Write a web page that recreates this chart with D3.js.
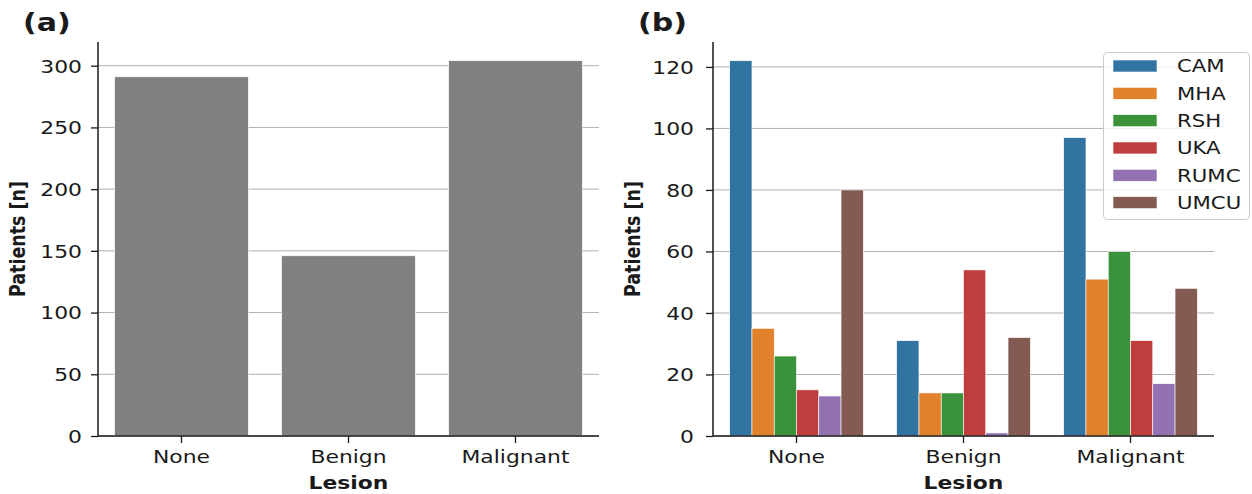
<!DOCTYPE html>
<html>
<head>
<meta charset="utf-8">
<script src="https://cdn.jsdelivr.net/npm/d3@7"></script>
<style>
  html, body { margin: 0; padding: 0; background: #fff; }
  svg { display: block; font-family: "DejaVu Sans", sans-serif; }
</style>
</head>
<body>
<svg id="chart" width="1252" height="494"></svg>
<script>
// ---- data ----
const categories = ["None", "Benign", "Malignant"];
const totals = [291, 146, 304];
const sites = ["CAM", "MHA", "RSH", "UKA", "RUMC", "UMCU"];
const siteColors = ["#3274a1", "#e1812c", "#3a923a", "#c03d3e", "#9372b2", "#845b53"];
const valuesCAM  = [122, 31, 97];
const valuesMHA  = [35, 14, 51];
const valuesRSH  = [26, 14, 60];
const valuesUKA  = [15, 54, 31];
const valuesRUMC = [13, 1, 17];
const valuesUMCU = [80, 32, 48];
const ticksA = [0, 50, 100, 150, 200, 250, 300];
const ticksB = [0, 20, 40, 60, 80, 100, 120];

const seriesValues = [valuesCAM, valuesMHA, valuesRSH, valuesUKA, valuesRUMC, valuesUMCU];

// ---- layout ----
const SX = 1.25;          // horizontal text stretch of the reference
const FS = 17.5;          // base font size
const ink = "#1a1a1a";
const svg = d3.select("#chart");
const yTop = 42, yBot = 436;

function styleAxis(g) {
  g.selectAll("path.domain").attr("stroke", ink).attr("stroke-width", 1.5);
  g.selectAll(".tick line").attr("stroke", ink).attr("stroke-width", 1.3);
  g.selectAll(".tick text").attr("fill", ink).style("font-size", FS + "px")
    .style("font-family", "'DejaVu Sans', sans-serif");
}

function stretchedText(parent, x, y, txt, opts) {
  const t = parent.append("text")
    .attr("transform", `translate(${x},${y}) ${opts.rotate ? "rotate(-90)" : ""} scale(${opts.rotate ? 1 : SX},${opts.rotate ? SX : 1})`)
    .attr("text-anchor", opts.anchor || "middle")
    .attr("fill", ink)
    .style("font-size", (opts.size || FS) + "px")
    .style("font-weight", opts.bold ? "bold" : "normal")
    .text(txt);
  return t;
}

function drawPanel(opts) {
  const x = d3.scaleBand().domain(categories).range([opts.x0, opts.x1])
    .paddingInner(0.2).paddingOuter(0.1);
  const y = d3.scaleLinear().domain([0, opts.ymax]).range([yBot, yTop]);
  const g = svg.append("g");

  // grid
  g.append("g").selectAll("line").data(opts.ticks).join("line")
    .attr("x1", opts.x0).attr("x2", opts.x1)
    .attr("y1", d => y(d)).attr("y2", d => y(d))
    .attr("stroke", "#b0b0b0").attr("stroke-width", 1);

  opts.drawBars(g, x, y);

  // axes
  const ya = g.append("g").attr("transform", `translate(${opts.x0},0)`)
    .call(d3.axisLeft(y).tickValues(opts.ticks).tickSizeOuter(0).tickSize(7));
  styleAxis(ya);
  ya.selectAll(".tick text").attr("x", -opts.labelGap / SX).attr("dy", "0.36em")
    .attr("transform", `scale(${SX},1)`);
  // extend domain to axis top
  ya.select("path.domain").attr("d", `M0,${yTop}V${yBot}`);

  const xa = g.append("g").attr("transform", `translate(0,${yBot})`)
    .call(d3.axisBottom(x).tickSizeOuter(0).tickSize(7));
  styleAxis(xa);
  xa.select("path.domain").attr("d", `M${opts.x0},0H${opts.x1}`);
  xa.selectAll(".tick text").attr("y", 27).attr("dy", 0)
    .attr("transform", `scale(${SX},1)`);

  // labels
  stretchedText(g, (opts.x0 + opts.x1) / 2, 489, "Lesion", { bold: true });
  stretchedText(g, opts.x0 - 73, (yTop + yBot) / 2, "Patients [n]", { bold: true, rotate: true });
  stretchedText(g, opts.tagX, 31, opts.tag, { bold: true, size: 24, anchor: "start" });
  return { x, y, g };
}

// Panel (a)
drawPanel({
  x0: 98, x1: 599, ymax: d3.max(totals) * 1.05, ticks: ticksA, labelGap: 16,
  tag: "(a)", tagX: 23,
  drawBars: (g, x, y) => {
    g.append("g").selectAll("rect").data(categories).join("rect")
      .attr("x", d => x(d)).attr("width", x.bandwidth())
      .attr("y", (d, i) => y(totals[i])).attr("height", (d, i) => y(0) - y(totals[i]))
      .attr("fill", "#808080").attr("stroke", "#ffffff").attr("stroke-width", 0.6);
  }
});

// Panel (b)
const maxB = d3.max(seriesValues.flat());
const pb = drawPanel({
  x0: 713, x1: 1214, ymax: maxB * 1.05, ticks: ticksB, labelGap: 19,
  tag: "(b)", tagX: 638,
  drawBars: (g, x, y) => {
    const xs = d3.scaleBand().domain(sites).range([0, x.bandwidth()]).padding(0);
    const flat = [];
    categories.forEach((c, ci) => sites.forEach((s, si) => flat.push({ c, s, si, v: seriesValues[si][ci] })));
    g.append("g").selectAll("rect").data(flat).join("rect")
      .attr("x", d => x(d.c) + xs(d.s)).attr("width", xs.bandwidth())
      .attr("y", d => y(d.v)).attr("height", d => y(0) - y(d.v))
      .attr("fill", d => siteColors[d.si]).attr("stroke", "#ffffff").attr("stroke-width", 0.6);
  }
});

// Legend
const lg = svg.append("g");
lg.append("rect").attr("x", 1103.5).attr("y", 52.5).attr("width", 146).attr("height", 167)
  .attr("rx", 4).attr("fill", "#ffffff").attr("fill-opacity", 0.8)
  .attr("stroke", "#cccccc").attr("stroke-width", 1);
const rowY = d3.scalePoint().domain(sites).range([66, 202.6]);
sites.forEach((s, i) => {
  lg.append("rect").attr("x", 1113).attr("y", rowY(s) - 6).attr("width", 44).attr("height", 12)
    .attr("fill", siteColors[i]).attr("stroke", "#ffffff").attr("stroke-width", 0.6);
  stretchedText(lg, 1177, rowY(s) + 6.4, s, { anchor: "start", size: 17 });
});
</script>
</body>
</html>
